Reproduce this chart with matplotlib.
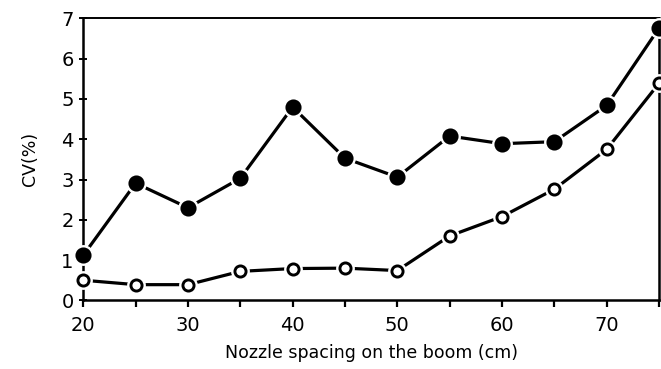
import matplotlib.pyplot as plt

spacing = [20, 25, 30, 35, 40, 45, 50, 55, 60, 65, 70, 75]
cv_filled = [1.12, 2.91, 2.30, 3.03, 4.80, 3.53, 3.06, 4.08, 3.89, 3.94, 4.84, 6.76]
cv_open = [0.50, 0.39, 0.39, 0.72, 0.79, 0.80, 0.74, 1.60, 2.08, 2.76, 3.75, 5.39]

x_ticks = [20, 25, 30, 35, 40, 45, 50, 55, 60, 65, 70, 75]
x_labels = ["20", "", "30", "", "40", "", "50", "", "60", "", "70", ""]
y_ticks = [0, 1, 2, 3, 4, 5, 6, 7]

plt.rcParams['font.family'] = ['DejaVu Sans']

fig = plt.figure(figsize=(6.61, 3.69), dpi=100)
ax = fig.add_axes([0.126, 0.186, 0.871, 0.764])

for y, face, size in [(cv_filled, "black", 9.5), (cv_open, "white", 8)]:
    ax.plot(spacing, y, color="black", lw=2.3, zorder=2, clip_on=False)
    # white halo so the line stops short of each marker
    ax.plot(spacing, y, ls="none", marker="o", ms=size + 4.5, mfc="white",
            mec="white", zorder=3, clip_on=False)
    ax.plot(spacing, y, ls="none", marker="o", ms=size, mfc=face,
            mec="black", mew=2.1, zorder=4, clip_on=False)

ax.set_xlim(20, 75)
ax.set_ylim(0, 7)
ax.set_xticks(x_ticks)
ax.set_xticklabels(x_labels)
ax.set_yticks(y_ticks)

for s in ax.spines.values():
    s.set_linewidth(1.8)
ax.spines["top"].set_linewidth(1.4)

ax.tick_params(axis="x", direction="out", length=5, width=1.6, pad=6,
               labelsize=14)
ax.tick_params(axis="y", direction="inout", length=6, width=1.4, pad=4,
               labelsize=14)

ax.set_xlabel("Nozzle spacing on the boom (cm)", fontsize=12.5, labelpad=7)
ax.set_ylabel("CV(%)", fontsize=12.5, labelpad=16)

fig.savefig("out.png", dpi=100)
